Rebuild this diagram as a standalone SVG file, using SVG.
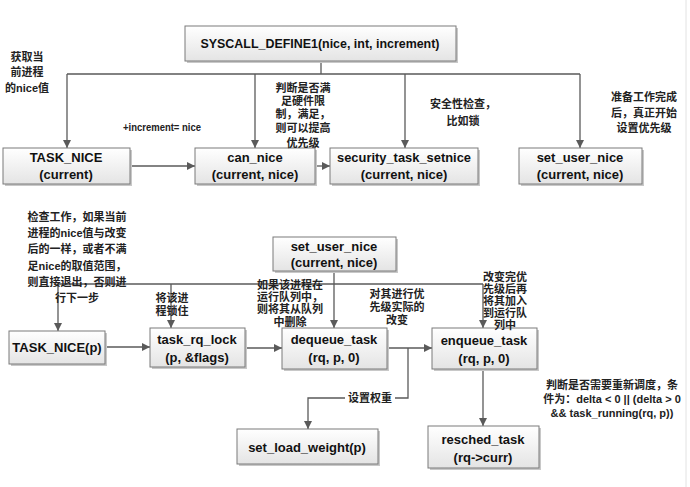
<svg xmlns="http://www.w3.org/2000/svg" width="690" height="487" viewBox="0 0 690 487">
<style>
.box{fill:url(#g);stroke:#7a7a7a;stroke-width:1}
.sh{fill:#c8c8c8}
.t{font-family:"Liberation Sans",Arial,sans-serif;font-weight:bold;font-size:13px;fill:#111;text-anchor:middle}
.cn{font-family:"Liberation Sans","Noto Sans CJK SC",sans-serif;font-size:11px;fill:#222;text-anchor:middle;font-weight:bold}
.ln{fill:none;stroke:#5a5a5a;stroke-width:1.3}
.ar{marker-end:url(#a)}
</style>
<defs>
<linearGradient id="g" x1="0" y1="0" x2="0" y2="1"><stop offset="0" stop-color="#ffffff"/><stop offset="1" stop-color="#e4e4e4"/></linearGradient>
<marker id="a" markerUnits="userSpaceOnUse" markerWidth="9" markerHeight="9" refX="8" refY="4" orient="auto"><path d="M0,0 L8,4 L0,8 z" fill="#5a5a5a"/></marker>
</defs>
<rect width="690" height="487" fill="#fff"/>
<line x1="686" y1="0" x2="686" y2="487" stroke="#e2e2e2" stroke-width="1"/>

<g id="connectors">
<path class="ln" d="M321,61 V74 M67,74 H580"/>
<path class="ln ar" d="M67,74 V148"/>
<path class="ln ar" d="M255,74 V148"/>
<path class="ln ar" d="M405,74 V148"/>
<path class="ln ar" d="M580,74 V148"/>
<path class="ln ar" d="M130,166 H195"/>
<path class="ln ar" d="M315,166 H330"/>
<path class="ln" d="M58,284 H483"/>
<path class="ln ar" d="M334,271 V328"/>
<path class="ln ar" d="M58,284 V331"/>
<path class="ln ar" d="M171,284 V328"/>
<path class="ln ar" d="M483,284 V328"/>
<path class="ln ar" d="M105,347 H150"/>
<path class="ln ar" d="M245,348 H282"/>
<path class="ln ar" d="M387,348 H432"/>
<path class="ln ar" d="M408,348 V398 H308 V429"/>
<path class="ln ar" d="M483,369 V426"/>
<rect x="345" y="391" width="50" height="14" fill="#fff"/>
<text class="cn" x="370" y="402">设置权重</text>
</g>

<g id="syscall"><rect class="sh" x="187" y="28" width="271" height="35"/><rect class="box" x="185" y="26" width="271" height="35"/><text class="t" x="320" y="48" textLength="239" lengthAdjust="spacingAndGlyphs">SYSCALL_DEFINE1(nice, int, increment)</text></g>
<g id="task_nice_current"><rect class="sh" x="5" y="150" width="127" height="36"/><rect class="box" x="3" y="148" width="127" height="36"/><text class="t" x="66" y="162">TASK_NICE</text><text class="t" x="66" y="179">(current)</text></g>
<g id="can_nice"><rect class="sh" x="197" y="150" width="120" height="36"/><rect class="box" x="195" y="148" width="120" height="36"/><text class="t" x="255" y="162">can_nice</text><text class="t" x="255" y="179">(current, nice)</text></g>
<g id="security"><rect class="sh" x="332" y="150" width="148" height="36"/><rect class="box" x="330" y="148" width="148" height="36"/><text class="t" x="404" y="162" textLength="134" lengthAdjust="spacingAndGlyphs">security_task_setnice</text><text class="t" x="404" y="179">(current, nice)</text></g>
<g id="set_user_nice_1"><rect class="sh" x="521" y="150" width="123" height="36"/><rect class="box" x="519" y="148" width="123" height="36"/><text class="t" x="580" y="162">set_user_nice</text><text class="t" x="580" y="179">(current, nice)</text></g>

<g id="set_user_nice_2"><rect class="sh" x="275" y="239" width="123" height="34"/><rect class="box" x="273" y="237" width="123" height="34"/><text class="t" x="334" y="251">set_user_nice</text><text class="t" x="334" y="267">(current, nice)</text></g>
<g id="task_nice_p"><rect class="sh" x="11" y="333" width="96" height="33"/><rect class="box" x="9" y="331" width="96" height="33"/><text class="t" x="57" y="352">TASK_NICE(p)</text></g>
<g id="task_rq_lock"><rect class="sh" x="152" y="330" width="95" height="39"/><rect class="box" x="150" y="328" width="95" height="39"/><text class="t" x="197" y="344">task_rq_lock</text><text class="t" x="197" y="362">(p, &amp;flags)</text></g>
<g id="dequeue_task"><rect class="sh" x="284" y="330" width="105" height="41"/><rect class="box" x="282" y="328" width="105" height="41"/><text class="t" x="334" y="344">dequeue_task</text><text class="t" x="334" y="362">(rq, p, 0)</text></g>
<g id="enqueue_task"><rect class="sh" x="434" y="330" width="105" height="41"/><rect class="box" x="432" y="328" width="105" height="41"/><text class="t" x="484" y="345">enqueue_task</text><text class="t" x="484" y="363">(rq, p, 0)</text></g>
<g id="set_load_weight"><rect class="sh" x="239" y="431" width="141" height="35"/><rect class="box" x="237" y="429" width="141" height="35"/><text class="t" x="307" y="452">set_load_weight(p)</text></g>
<g id="resched_task"><rect class="sh" x="430" y="428" width="111" height="42"/><rect class="box" x="428" y="426" width="111" height="42"/><text class="t" x="483" y="444">resched_task</text><text class="t" x="483" y="462">(rq-&gt;curr)</text></g>

<g id="labels">
<text class="cn" x="27" y="61">获取当</text><text class="cn" x="27" y="76">前进程</text><text class="cn" x="27" y="92">的nice值</text>
<text class="cn" x="162" y="131" font-size="10.5" textLength="78" lengthAdjust="spacingAndGlyphs">+increment= nice</text>
<text class="cn" x="303" y="92">判断是否满</text><text class="cn" x="303" y="105">足硬件限</text><text class="cn" x="303" y="118">制，满足，</text><text class="cn" x="303" y="132">则可以提高</text><text class="cn" x="303" y="147">优先级</text>
<text class="cn" x="463" y="108">安全性检查，</text><text class="cn" x="463" y="125">比如锁</text>
<text class="cn" x="644" y="101">准备工作完成</text><text class="cn" x="644" y="117">后，真正开始</text><text class="cn" x="644" y="132">设置优先级</text>
<text class="cn" x="77" y="221">检查工作，如果当前</text><text class="cn" x="77" y="237">进程的nice值与改变</text><text class="cn" x="77" y="253">后的一样，或者不满</text><text class="cn" x="77" y="270">足nice的取值范围，</text><text class="cn" x="77" y="286">则直接退出，否则进</text><text class="cn" x="77" y="302">行下一步</text>
<text class="cn" x="172" y="302">将该进</text><text class="cn" x="172" y="315">程锁住</text>
<text class="cn" x="290" y="289" font-size="10">如果该进程在</text><text class="cn" x="290" y="301" font-size="10">运行队列中，</text><text class="cn" x="290" y="313" font-size="10">则将其从队列</text><text class="cn" x="290" y="326" font-size="10">中删除</text>
<text class="cn" x="397" y="298">对其进行优</text><text class="cn" x="397" y="311">先级实际的</text><text class="cn" x="397" y="324">改变</text>
<text class="cn" x="505" y="281" font-size="10.5">改变完优</text><text class="cn" x="505" y="293" font-size="10.5">先级后再</text><text class="cn" x="505" y="305" font-size="10.5">将其加入</text><text class="cn" x="505" y="317" font-size="10.5">到运行队</text><text class="cn" x="505" y="329" font-size="10.5">列中</text>
<text class="cn" x="612" y="389" font-size="10.5">判断是否需要重新调度，条</text><text class="cn" x="612" y="403" font-size="10.5">件为：delta &lt; 0 || (delta &gt; 0</text><text class="cn" x="612" y="417" font-size="10.5">&amp;&amp; task_running(rq, p))</text>
</g>
</svg>
